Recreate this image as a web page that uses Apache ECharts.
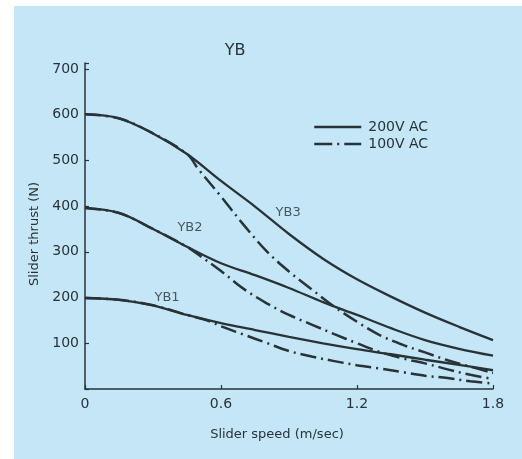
<!DOCTYPE html>
<html>
<head>
<meta charset="utf-8">
<script src="https://cdn.jsdelivr.net/npm/echarts@6/dist/echarts.min.js"></script>
<style>
html,body{margin:0;padding:0;background:#ffffff;}
#chart{width:522px;height:459px;}
</style>
</head>
<body>
<div id="chart"></div>
<script>
// ---- data ----
var xTickLabels = ['0', '0.6', '1.2', '1.8'];
var yTickLabels = ['100', '200', '300', '400', '500', '600', '700'];

var xSolid = [0, 0.15, 0.3, 0.45, 0.6, 0.75, 0.9, 1.05, 1.2, 1.35, 1.5, 1.65, 1.8];
var yb3_200 = [601, 592, 559, 514, 455, 399, 339, 285, 240, 202, 167, 136, 107];
var yb2_200 = [396, 385, 350, 311, 275, 249, 221, 190, 162, 133, 107, 88, 73];
var yb1_200 = [199, 195, 183, 162, 144, 129, 114, 100, 87, 76, 64, 53, 41];

var xDash = [0, 0.15, 0.3, 0.45, 0.5, 0.6, 0.7, 0.8, 0.9, 1.0, 1.1, 1.2, 1.3, 1.4, 1.5, 1.6, 1.7, 1.8];
var yb3_100 = [601, 592, 559, 514, 481, 421, 359, 302, 257, 218, 180, 147, 118, 97, 80, 63, 49, 35];
var yb2_100 = [396, 385, 350, 311, 294, 258, 219, 188, 162, 141, 120, 100, 81, 67, 56, 43, 31, 22];

var xDash1 = [0, 0.15, 0.3, 0.45, 0.55, 0.6, 0.7, 0.8, 0.9, 1.0, 1.1, 1.2, 1.3, 1.4, 1.5, 1.6, 1.7, 1.8];
var yb1_100 = [199, 195, 183, 162, 148, 137, 119, 101, 83, 71, 61, 52, 45, 37, 29, 24, 17, 12];

var curveNames = ['YB3', 'YB2', 'YB1'];
var curveLabelPos = [[0.896, 385], [0.463, 353], [0.362, 200]];

// ---- chart ----
var INK = '#283338';
var FONT = 'DejaVu Sans';
function pairs(xs, ys) { return xs.map(function (x, i) { return [x, ys[i]]; }); }
var DASHDOT = [16, 5, 2, 5];

function lineSeries(name, xs, ys, dashed) {
  return {
    name: name,
    type: 'line',
    data: pairs(xs, ys),
    smooth: 0.35,
    showSymbol: false,
    symbol: 'none',
    silent: true,
    lineStyle: { color: INK, width: dashed ? 2.5 : 2.3, type: dashed ? DASHDOT : 'solid', cap: 'butt' },
    itemStyle: { color: INK },
    z: 3
  };
}

var chart = echarts.init(document.getElementById('chart'), null, { renderer: 'canvas' });
chart.setOption({
  animation: false,
  backgroundColor: 'transparent',
  graphic: [{
    type: 'rect', left: 14, top: 6, z: -10,
    shape: { width: 508, height: 453 },
    style: { fill: '#c5e6f7' }
  }],
  title: {
    text: 'YB', left: 230, top: 38, textAlign: 'center',
    textStyle: { fontFamily: FONT, fontSize: 16, fontWeight: 'normal', color: INK }
  },
  legend: {
    data: [
      { name: '200V AC', itemStyle: { opacity: 0 }, lineStyle: { type: 'solid', width: 2.3, color: INK } },
      { name: '100V AC', itemStyle: { opacity: 0 }, lineStyle: { type: [18, 5, 2, 5], width: 2.5, color: INK } }
    ],
    orient: 'vertical', left: 313, top: 120, padding: 0,
    itemWidth: 47, itemHeight: 14, itemGap: 3,
    itemStyle: { opacity: 0 },
    textStyle: { fontFamily: FONT, fontSize: 14, color: INK, padding: [0, 0, 0, 2] }
  },
  grid: { left: 85, right: 29, top: 63, bottom: 70, containLabel: false },
  xAxis: {
    type: 'value', min: 0, max: 1.8, interval: 0.6,
    name: 'Slider speed (m/sec)', nameLocation: 'middle', nameGap: 39,
    nameTextStyle: { fontFamily: FONT, fontSize: 13, color: INK, padding: [0, 24, 0, 0] },
    axisLine: { show: true, lineStyle: { color: INK, width: 1.5 } },
    axisTick: { show: true, inside: true, length: 4, lineStyle: { color: INK, width: 1.2 } },
    axisLabel: {
      fontFamily: FONT, fontSize: 14, color: INK, margin: 8,
      formatter: function (v) { var i = Math.round(v / 0.6); return Math.abs(v - i * 0.6) < 1e-6 ? xTickLabels[i] : ''; }
    },
    splitLine: { show: false }
  },
  yAxis: {
    type: 'value', min: 0, max: 713, interval: 100,
    name: 'Slider thrust (N)', nameLocation: 'middle', nameGap: 42, nameRotate: 90,
    nameTextStyle: { fontFamily: FONT, fontSize: 13, color: INK, padding: [0, 16, 0, 0] },
    axisLine: { show: true, lineStyle: { color: INK, width: 1.5 } },
    axisTick: { show: true, inside: true, length: 4, lineStyle: { color: INK, width: 1.2 } },
    axisLabel: {
      fontFamily: FONT, fontSize: 14, color: INK, margin: 6,
      formatter: function (v) { var i = Math.round(v / 100); return (Math.abs(v - i * 100) < 1e-6 && i >= 1 && i <= 7) ? yTickLabels[i - 1] : ''; }
    },
    splitLine: { show: false }
  },
  series: [
    lineSeries('200V AC', xSolid, yb3_200, false),
    lineSeries('200V AC', xSolid, yb2_200, false),
    lineSeries('200V AC', xSolid, yb1_200, false),
    lineSeries('100V AC', xDash, yb3_100, true),
    lineSeries('100V AC', xDash, yb2_100, true),
    lineSeries('100V AC', xDash1, yb1_100, true),
    {
      name: 'labels', type: 'scatter', symbolSize: 0, silent: true,
      data: curveLabelPos.map(function (p, i) { return { value: p, name: curveNames[i] }; }),
      label: {
        show: true, position: 'inside', formatter: function (p) { return p.name; },
        fontFamily: FONT, fontSize: 13, color: INK
      },
      z: 4
    }
  ]
});
</script>
</body>
</html>
